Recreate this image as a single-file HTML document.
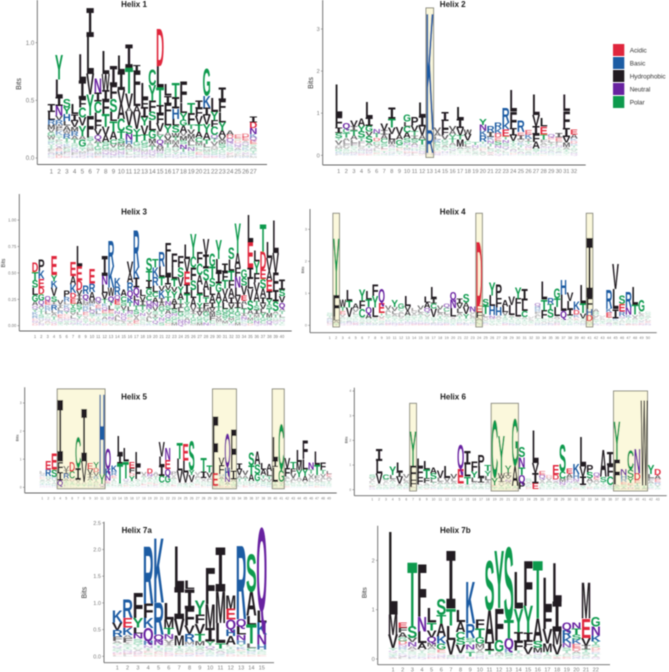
<!DOCTYPE html>
<html lang="en">
<head>
<meta charset="utf-8">
<title>Helix sequence logos</title>
<style>
html,body{margin:0;padding:0;background:#fff;width:669px;height:672px;overflow:hidden}
svg{display:block}
text{font-family:"Liberation Sans",sans-serif}
</style>
</head>
<body>
<svg id="figure" xmlns="http://www.w3.org/2000/svg" width="669" height="672" viewBox="0 0 669 672">
<defs><filter id="soft" x="-2%" y="-2%" width="104%" height="104%"><feGaussianBlur stdDeviation="0.4"/></filter></defs>
<g id="root" filter="url(#soft)"></g>
</svg>
<script>
// Each column is listed top to bottom: letter + height in hundredths of a bit.
const helix1Stacks = [
"I7 L7 R4 M4 V3 G3 W3 S2 K2 Y2 T2 F2 P1 A1 N1 H1 C1 Q1",
"Y21 L15 I8 N8 V4 R4 W3 F3 K3 S2 T2 P2 G2 Q2 A2 E2 H2 M2 D2",
"S7 Y6 H6 L4 A4 W3 R4 T3 Y2 K2 F2 G2 P2 N1 C1 Q1 E1",
"L9 I6 V5 M4 R4 A3 T3 S2 G2 K2 N2 F2 P1 Q1 H1",
"L23 I16 F7 C9 V7 Y9 A3 G6 S2 T2 M2 K1 N1 P1 Q1",
"I25 L32 V18 Y18 F19 S3 T2 A2 G2 M2 P2 K1 N1 Q1 R1 H1",
"N12 I8 C10 L7 F7 V5 Q4 A3 T3 G3 S2 M2 K1 P1 E1",
"L20 W14 I9 F12 T11 V7 A6 S3 G3 M2 Q2 N1 K1 P1 H1",
"I17 F12 S11 L8 T9 A7 C4 V3 G2 M2 Q2 N1 K1 P1",
"L14 I16 V12 A13 C11 T6 S4 M3 G3 Q2 N2 K1 R1 P1",
"I20 T22 V12 A4 V12 S7 N5 H4 A3 M2 G2 L2 C1 Q1 P1",
"I6 F18 L12 A6 V14 Y5 T6 G3 S2 M2 N2 C2 Q1 K1 P1",
"L14 F7 I9 Y7 V8 T5 G3 S3 C2 M2 N2 K1 P1 Q1",
"C14 Y13 F10 S7 L9 G7 M4 A3 T3 N2 Q2 K1 P1 V1",
"D32 L19 T15 I8 F8 V7 L3 Y4 Q4 A3 M3 N2 S2 K1 G1",
"L10 I7 F10 L9 Y6 A3 V4 M3 T3 S2 G2 C2 N1 K1 P1",
"T12 I10 H9 L6 S6 W4 T3 M3 A3 G2 V2 Y2 N1 K1 Q1",
"F18 L9 Y6 G5 A6 V3 M4 S3 N4 T3 K2 C1 Q1 P1",
"T9 F10 T4 V4 M4 A3 L3 S2 N3 G2 C2 K1 Q1",
"I7 F7 V7 T6 A5 C4 M3 S2 L2 G2 E2 N1 K1 P1",
"G23 K10 I7 V8 Y7 A6 T4 L3 C2 M2 S2 N1 Q1 E1",
"L12 Y7 F6 C7 Q3 T3 V3 A2 M2 G2 S2 K1 N1 E1",
"I11 F10 L9 Y7 A5 V4 M3 S3 T2 G2 C2 N1 K1 Q1",
"A4 D3 Q3 N2 K2 S2 G2 T1 V1 E1 L1 M1 P1",
"E3 S2 D2 Q2 N2 A2 K1 G1 T1 V1 L1 P1 H1",
"D3 E3 A2 Q2 S2 K2 G1 T1 V1 N1 L1 M1 R1",
"I5 D5 N5 K3 Q3 E3 S2 A2 G2 T2 V1 R1 L1 M1"
];
const helix2Stacks = [
"L75 F26 I13 S12 T6 V9 A5 M6 G6 K3 R3 P3",
"Q13 C10 T11 A8 L7 F6 V6 S5 G4 W3 K3",
"V14 I10 T12 A10 L8 F7 S5 Y4 G4 M3 Q3 K3",
"A18 Y13 S15 T8 F7 L6 V5 M4 H3 G3 N3 E3",
"L36 I20 G13 V11 S15 A8 T6 Q4 M4 N3 K3 E3",
"N10 T10 D8 C8 V6 A5 L5 S4 E3 G3",
"V17 I10 A10 C10 S8 L6 E4 T5 Q3 G3",
"I28 T20 V15 L14 M10 A6 N4 S4 C4 Q3 G3 K3",
"V18 A12 G12 C8 D4 L4 S4 T3 N2",
"G16 L11 C15 A13 S10 N6 T6 M5 R4 D4 F3 Q3",
"P20 V14 T10 I8 S9 A7 N5 G5 H4 E3 F3 L3",
"L32 I24 V21 A10 T12 S5 C5 G5 N3 Q3 M3 E2",
"K275 R55 Q3 H2",
"V10 A9 L8 K7 C7 S6 T5 G4 D3 Q3 N3",
"I21 L20 F14 V10 G7 S6 A6 C5 T4 N3 H3 Q2 K2",
"V11 A10 Y10 T9 A7 C6 Q5 S4 L3 G3 N2",
"L29 I21 V18 T10 M16 A6 S4 T4 Y3 G2 N2",
"W12 V15 C8 L7 A5 T4 I4 G3 S2 N2",
"T8 N6 V5 L4 S4 A3 G3",
"Y14 N13 K12 R14 T6 H5 S5 D4 L4 A3 G3 V3",
"R14 I11 K8 N8 T7 L6 S5 V4 D3 A3",
"R14 K12 D10 E8 S10 N7 Y5 P4 T4 Q4",
"R34 K17 E16 T8 N8 S7 Q6 Y5 L4 G4 H3",
"L52 F40 I17 V13 T6 Y6 S5 A5 N4 G3 D3 K2",
"R27 E8 I10 V6 K6 T6 L5 S4 A4 N3 G3",
"E10 K10 I7 T6 V5 N5 D4 S4 A3 G3 R3",
"L48 V26 I20 F18 A16 S6 T4 N3 G3",
"L20 E18 T12 F7 A6 V5 N4 S4 K4 Q3 G3 D2",
"Q8 E6 L6 I5 T5 N5 S4 A4 K3 G3 R2",
"I10 E8 F6 L5 N5 T4 S4 A3 K3 G2 Q2",
"L39 F40 I21 V14 M10 A6 T5 S4 Y3 G2",
"E12 A10 K6 D6 R5 T5 S5 V4 G3 N3 Q3"
];
const helix3Stacks = [
"D9 T8 S7 L7 G6 A4 Q3 Y3 K3 R3 E2 N2 V1 D2",
"P11 K8 E8 D6 G6 Q4 A3 Y3 T3 S3 R2 V2 L2 N2",
"Q4 E4 K3 R3 L3 Y2 S2 N2 A2 D1 G1 T1",
"E18 Y6 K6 V8 S5 I3 R5 L3 A3 T3 G2 Q2 D2",
"V4 I3 L3 R3 E3 A2 Q2 S2 T1 G1",
"P6 R4 L3 K3 Q3 Y3 E2 D2 N2 S2 A2 T1",
"E13 A8 K8 D5 E5 Y4 S4 V3 L3 Q2 G2 N2 T1",
"L19 E13 D9 V5 I4 A5 S4 T3 L3 Y3 F2 N2 K2 G1",
"R8 Q5 L3 M3 R3 K3 E3 V2 A2 S2 T2 N2",
"E14 R8 A7 M4 K3 L3 Q3 S3 T2 D2 V2 G2 N1",
"Q4 V3 E3 R3 L3 K2 T2 S2 A2 N2 G1",
"I19 N8 L8 V6 T4 K3 Q3 E3 S3 A3 R2 G2 D2",
"R24 K20 W8 Q5 T4 L4 E3 S3 N3 A2 G2 V2",
"K8 R8 Q4 E5 S3 T3 N3 A3 L3 V2 G2 I1",
"A6 C5 S4 V4 T3 N3 Q3 L2 I2 G2",
"V11 A9 R8 Q6 K5 T4 L4 N3 S3 E2 G2 I2 D2",
"R35 K10 I9 Q7 L5 N5 T4 S4 V3 A3 E3 G2",
"L6 V5 I4 T4 Y3 N3 S2 A2 C2 G2 Q1",
"S12 T9 I8 G6 C5 Q4 N4 T3 V3 A3 L3 Y2 K2",
"T8 K9 R8 L6 C5 A5 N4 V4 S3 I3 Y3 Q3 G2",
"R14 L10 T8 V5 K7 I4 A4 G4 T3 Y3 N3 Q2 S3",
"F12 L19 I8 V5 Y6 T5 N4 S4 A4 Q3 G3 C3 D2",
"F12 L12 T7 V5 Y6 A5 I5 S4 N3 G3 C3 M3",
"F11 S9 V9 Y6 A6 T4 I4 L4 G4 C3 N3 Q3",
"L14 V12 E12 I9 T8 Y4 G4 S3 C3 A3 N3 F2",
"Y22 C10 F12 S9 L8 A8 V4 I3 T3 G3 C3 M2",
"F11 C11 A9 L9 T8 Y5 I4 V4 G3 S3 M3",
"V15 I13 S11 A9 L7 T5 F5 M4 G4 C3 Y3 N3",
"G12 T11 S8 L8 A7 I5 V4 M4 F4 C3 N2",
"Y18 L12 I11 G8 A8 Y6 T4 S4 V3 M3 F2 C2",
"I8 F8 T8 V7 A6 L6 G4 S4 Y3 M3 C2",
"S11 L11 T9 F8 A8 I6 V5 G4 C4 M3 Y3 N2",
"Y28 A14 F9 N10 L8 V6 I5 T4 G4 S3 C3 M3",
"G8 S7 V9 E5 A4 L4 T4 I3 N3 K2 C2 Q2",
"L26 E24 I11 L9 V11 S9 A4 T3 M3 G3 D2",
"L10 Y11 F9 V9 A9 T4 S4 I4 M3 G3 N3 Q2",
"T26 D17 E9 S9 A8 I6 V5 L4 Y4 G3 C3 N2",
"L15 V12 A9 E10 I8 Y5 S4 T4 M4 G3 Q3 N2",
"L31 V19 F16 I11 S9 A3 T3 G2 M2 Q2 Y2",
"I10 S6 V6 Q5 A3 T3 L3 G2 N2 Y2 C2"
];
const helix4Stacks = [
"S6 G5 T5 A4 R4 K4 N3 L3 E2 Q2 D2",
"Y175 F68 L12 A8 S4 T3",
"W24 T12 E10 V8 A6 S5 L4 G4 K3 Q3 N2",
"L34 T20 V30 S6 G5 A4 K3 N3 Q3 D2",
"A16 V10 L8 S6 T6 G5 C4 K4 Q3 E3 N3",
"Y33 F26 C26 V6 S5 G4 A4 T3 K3",
"L25 T24 Q20 A15 G6 S5 V5 N3 K3",
"F36 Y36 L30 A6 S5 T5 G4 V3 K3",
"Q42 E32 T9 V8 D6 S5 G4 A4 K3",
"V12 A9 L8 S7 T6 G5 K4 Q4 N3 E3",
"Y22 V12 L10 A8 S6 T6 G5 K4 N3 Q3",
"G15 C9 A8 L8 V7 S6 T5 K4 Q3 E3",
"L31 V16 A15 S7 G6 T5 K4 N3 Q3 E2",
"L9 V8 A7 S6 T5 G5 K4 Q3 N3 E3",
"V12 L10 A8 T7 S6 G5 K4 Q4 N3 E3",
"L18 A18 Q12 Y8 V8 T6 S5 G5 K4 N3 E3",
"L36 I16 C16 V26 G6 S5 T5 A4 K3 N3",
"V12 L11 A9 T8 G7 S5 K4 Q3 N3",
"Q12 C12 L10 A7 T6 G6 S5 K3 N3 E3",
"Q23 N26 L26 V6 A5 S5 G5 T4 K3",
"I16 V16 L14 A9 T8 S6 G5 K4 N3 E3",
"S26 A16 V21 Y14 G6 T5 L4 K3 N3",
"N15 V8 L7 A7 S5 T5 G4 K3 Q2 E2",
"D200 E19 F18 A8 S5 L4 T3 G3",
"S20 T26 L10 A6 V6 G5 K4 N3 E2",
"Y40 L33 H28 N10 A6 S5 T4 G4 V3",
"P42 F29 H26 A7 V6 S5 T4 G4 L4",
"A20 L18 V11 T7 S7 G6 K4 N3 E3",
"V26 L31 A7 T7 G6 S5 K4 N3",
"Y34 F26 L31 A6 T6 S5 G4 V3 K3",
"I36 L34 C18 A7 T6 S5 G4 V4",
"V6 L5 A5 T4 S3 G2 K2 E1",
"Q10 H9 R8 F8 A7 L7 T6 S5 G4 N3 K3",
"L55 T32 F26 S5 G5 A5 V4 K3",
"R17 T16 S26 A6 G5 V4 L4 K3 N3",
"G31 T26 L28 A7 V6 S5 P5 N3 D3",
"H45 L52 Q21 A6 T5 S5 G4 Y3",
"V26 L26 I20 Y8 A6 T5 S4 G4 K3",
"K26 D14 K10 E6 A5 T4 S4 N3 G2",
"L57 T30 V16 S6 A5 G5 N3 K3",
"I185 F36 H20 D18 A6 S4 T3",
"A10 G8 V8 L7 S6 T5 K4 N3",
"V6 L5 A5 S4 T4 G3 K2 E2",
"R57 K13 E15 T6 S5 G4 A4 N3 Q3",
"V78 L62 I29 K7 S5 A4 T3 G3",
"S26 E24 R14 N7 T6 A5 G4 L4 K3",
"R47 N21 K9 T7 S6 G5 A4 E3",
"L55 T31 V8 A7 S6 G5 K4 E3",
"G36 L8 A7 S6 T6 V5 K4 E4 N3",
"G6 S6 A6 T5 L5 V4 E4 K4 N3"
];
const helix5Stacks = [
"L8 V7 R6 E6 S5 A5 G5 T5 K4 Q3 N3",
"E30 R24 S8 V6 A6 T5 G5 K4 Q3 N3",
"E56 S26 R8 V6 T6 A5 G5 K4 N3",
"I218 F36 I30 Q18 A4 S3",
"V14 I12 R18 A8 T6 S6 G4 L4 K3",
"D33 C26 E6 V6 T5 S4 G4 L3 A3",
"C107 I44 V8 A6 S5 T4 L3",
"I188 V74 A6 S5 T4 G3",
"E20 V18 I12 A10 T7 G6 S5 K4 L3",
"Y21 D14 V14 R10 T8 A7 S6 L5 K4",
"H282 Y36 Q8 A4",
"Q71 K24 N18 E8 A5 T4 S4 G3",
"K20 R14 E9 T8 A7 S6 L5 G4 N3",
"L68 I30 T71 S6 A4 G4",
"L48 T60 Q8 S6 A5 G5 E4 K3",
"E20 F18 D10 Y18 A6 T5 G5 S4 L3",
"L48 F48 A6 T6 S5 G5 V4 K3",
"V10 A8 T8 S7 G6 L5 E4 K3 Q3",
"D18 N12 A8 T7 S6 E5 G5 L4 K3",
"A10 V8 T8 G6 S6 L5 E4 K4 Q3",
"V51 L32 I36 C24 A6 T4 S4 G3",
"N42 E32 Q24 G24 A5 T5 S4 L3",
"P10 V8 A8 T6 G6 S6 L5 E4 K3",
"T57 L42 V42 A5 S5 G4 K3",
"E60 L42 V36 A5 T4 S4 G4",
"S101 Y18 V24 A6 T5 G4 L4",
"V10 A9 L7 T6 S6 G5 E4 K3 Q3",
"T48 I24 V8 A7 S6 G5 L4 E3",
"T24 V18 A9 L8 S6 G5 K4 E3",
"F202 E45 A4",
"V27 F32 H8 A9 T8 S7 G6 L5 E4",
"Q119 H33 N19 A8 T6 E4",
"F143 I33 A8 T6 G5 S5 V4",
"I22 V20 A12 T10 S7 G6 L5 K3",
"V16 A12 T10 G7 S6 L5 E4",
"S45 T32 A24 G8 L6 V5 K3",
"A45 S33 G26 T8 V6 L5 E3",
"L22 A20 T12 V10 S8 G6 K4 E3",
"A24 L18 T12 V10 S8 G6 K4",
"L83 I24 L53 T6 S5 A4 G4",
"C162 G43 V6 T5 S4 A3",
"V36 F30 A9 L8 T6 G6 S5 E4",
"T22 F18 V16 A10 L8 G7 S5 K3",
"L42 M30 Y24 A10 V8 T6 G5 S4 K3",
"F65 L36 Y24 A18 V8 T6 S5 K3",
"N24 T14 V12 A10 L8 S6 G6 K4 E3",
"L48 T36 F12 A9 V7 S6 G5 E4",
"F27 T14 V12 A9 L8 S7 G5 K4 E3",
"L12 E10 A9 V8 T7 S6 G5 K3"
];
const helix6Stacks = [
"S12 V10 A8 L7 T6 G5 E4 K4 Q3 N3",
"I49 L51 V41 A7 T6 S5 G4 K3",
"C20 V9 A8 L7 T6 S5 G4 K3",
"Y34 L16 A10 T8 S7 G6 V5 K4 E3",
"L38 I20 V27 A10 S6 T5 G4",
"V14 L11 A10 T8 S6 G5 K4 E3",
"Y138 F57 F31 A4 T3 S3",
"L34 F41 F30 A7 S6 T5 G4",
"L34 T34 F20 A9 S6 G5 V4 E3",
"A23 S22 L14 T9 V8 G6 K4 E3",
"V32 L14 A10 T8 S6 G5 K4",
"L50 V14 A10 T8 S6 G5 E4",
"V18 L12 A10 T8 S6 G5 K4",
"Q95 E60 T7 V6 A5 S4 G4",
"I54 L50 T31 V7 A6 S5 G4",
"F41 Y23 L18 A9 T8 S6 G5 V4",
"P49 L43 I20 V8 T7 S6 A5 G4",
"T22 Y20 L16 I10 A9 S7 G6 V5 K3",
"C230 Y31 E6 S5 T4 G3",
"Y149 W20 I16 A8 V8 T6 S5 G5",
"Y27 I14 V13 N11 A9 T8 G6 S5 L4",
"G189 A81 T7 S5 Q4",
"S41 N41 T31 Q30 P27 A3",
"S9 V7 A7 T5 L5 G4 E4 K3",
"L131 V41 I41 E23 S3",
"E16 Q14 V10 A9 T8 S6 G5 L4 K3",
"D10 V10 A9 C9 T7 S6 G5 K3",
"E38 D20 Q8 A9 T7 S6 G5 L4 K3",
"S108 C27 M14 N12 A6 T5 Y5 G4",
"E20 A16 F12 N10 T8 S7 G5 V4 K4",
"K41 H18 N12 A9 T8 S7 G6 E4",
"L119 V41 I34 A6 S5 T4 G4",
"P31 S23 A14 V10 T8 G6 E5 K4",
"Q14 E12 A10 V9 T7 S6 G5 K4",
"A108 S20 T10 V8 G6 Q4 K3",
"I54 F45 C34 A6 T5 S5 G4",
"Y153 F101 A8 T5 S5 G4",
"N24 H16 R12 E10 S8 T6 A4 D3",
"C78 S34 Y20 E9 T8 N6 D4",
"N97 D27 E12 T9 K8 S6 A4",
"W345 T8 S5 A4",
"Y36 L16 F12 A10 T8 S6 G5 K4 E3",
"D24 A16 E12 R10 V8 T6 S5 K3"
];
const helix7aStacks = [
"K22 V14 R12 F8 A5 Y4 Q4 S3 G3 T3 N2 D2 E1 L2",
"R34 E18 K14 A6 F8 I4 S4 T4 G3 N3 Q2 D2 P2 L2",
"F47 Y18 L11 N10 S6 G5 T4 C4 V3 A3 Q2 D2 K2 E2",
"R106 F27 K19 Q24 H8 N5 T4 I3 E3 G2 S2 D2",
"K120 R60 Q11 N9 T5 H3 S3 A3 E3 G2 D2",
"L31 M16 T12 N9 V6 I5 A4 S4 G3 K3 E3 Q2 D2",
"L76 I59 V31 M19 T5 S4 A3 G3 E2 K2 N1",
"L15 I37 F31 V16 R14 M6 H4 T3 S3 A3 G3 E2 Q2 K2",
"Y26 F17 V19 T14 M8 S5 A4 G3 Q3 K3 E2",
"F68 M44 I25 Y8 Q5 A4 T3 S3 G3 K2",
"I82 M59 L37 T10 G4 A4 Q3 S2 K2",
"M25 E20 Q19 H12 A16 L4 T4 G4 S4 K3 D3",
"R136 Q14 L15 N10 H8 Y5 K5 E3 S3 T3 G2 D2",
"S69 A45 L16 T36 L8 C6 H3 K3 G2 E2",
"Q154 L22 K22 N19 H9 T3 S3 C3 G2 E2"
];
const helix7bStacks = [
"L167 M41 V27 Y5 Q4 G3 S3 T2 K2 A2 E1",
"E10 F10 A10 G8 D7 N5 R5 S4 T3 K3 Q3 V2 P2 L2",
"T128 S24 V9 N9 A6 I4 S4 G3 Q3 K3 L2",
"F106 N30 L24 A12 V4 T4 S4 G3 K3 Q2",
"L30 T16 V14 Q11 M8 A6 S4 G4 E3 K3 N3 D2",
"S32 T17 A26 K15 G12 E6 S3 Q3 N3 R2 D2",
"I116 T34 L29 V30 A3 S2 G2 N2",
"L24 A20 C14 S12 V17 T3 N3 Q2 G2 K2",
"K84 R29 S8 T6 N10 G5 T9 Q3 D2",
"F18 T18 G13 M8 V6 A5 S4 Q3 K3 N2",
"S99 A65 I17 T8 Q3 G3 L3",
"Y115 F65 G23 A5 M4 T3 S3",
"S147 T37 Q22 K7 S6 G4 A3",
"L74 Y47 I20 F18 T5 A4 V3 S3 G2",
"F90 Y54 I18 F12 V14 A4 S3 T3",
"T115 A47 S13 M10 Q4 G4 K3 V2",
"L64 F40 V30 M17 T5 A4 S3 G2",
"L78 I61 M27 V20 S3 T2 E2 A2",
"Q15 R15 K12 N9 S6 T5 A4 G4 E2 D2",
"N12 T12 S10 K10 E8 D6 A5 G4 Q4 R3",
"M73 E39 V16 I8 T5 S5 A4 G3 K2",
"G19 N18 K12 Y7 S6 D5 E4 R4 T4 A3 Q3"
];

const helix1Ticks = [0, 0.5, 1];
const helix2Ticks = [0, 1, 2, 3];
const helix3Ticks = [0, 0.25, 0.5, 0.75, 1];
const helix4Ticks = [0, 1, 2, 3];
const helix5Ticks = [0, 1, 2, 3];
const helix6Ticks = [0, 1, 2, 3, 4];
const helix7aTicks = [0, 0.5, 1, 1.5, 2, 2.5];
const helix7bTicks = [0, 1, 2];

// Highlighted conserved regions: first position, last position, top in bits.
const helix2Regions = [[13, 13, 3.5]];
const helix4Regions = [[2, 2, 3.5], [24, 24, 3.5], [41, 41, 3.5]];
const helix5Regions = [[4, 11, 3.5], [30, 33, 3.5], [40, 41, 3.5]];
const helix6Regions = [[7, 7, 3.5], [19, 22, 3.5], [37, 41, 4]];

const legendLabels = ["Acidic", "Basic", "Hydrophobic", "Neutral", "Polar"];

const groupColors = {Acidic:"#e0283c", Basic:"#1f5ca3", Hydrophobic:"#211e20", Neutral:"#6820a0", Polar:"#0c9a4e"};
const letterGroups = {D:"Acidic",E:"Acidic",R:"Basic",K:"Basic",H:"Basic",
  Q:"Neutral",N:"Neutral",G:"Polar",S:"Polar",T:"Polar",Y:"Polar",C:"Polar"};

const SVGNS = "http://www.w3.org/2000/svg";
const root = document.getElementById("root");

function mk(tag, attrs, parent, txt) {
  const el = document.createElementNS(SVGNS, tag);
  for (const k in attrs) el.setAttribute(k, attrs[k]);
  if (txt !== undefined) el.textContent = txt;
  parent.appendChild(el);
  return el;
}

// Draws one stretched logo letter, fits it to a column, and fades very short letters.
function drawLetter(g, ch, cx, yBottom, colW, h) {
  const mono = ch === "I";
  const color = groupColors[letterGroups[ch] || "Hydrophobic"];
  const fade = Math.max(0.18, Math.min(1, (h - 1) / 4.5));
  const el = mk("text", {
    "x": 0, "y": 0, "font-size": 100, "font-weight": "bold", "fill": color, "text-anchor": "middle",
    "fill-opacity": fade.toFixed(2),
    "style": mono ? 'font-family:"Liberation Mono",monospace' : ""
  }, g, ch);
  
  
  const adv = el.getComputedTextLength() || 70;
  const sx = (mono ? colW * 1.25 : colW * 1.04) / adv;
  const sy = h / (mono ? 65.9 : 68.8);
  el.setAttribute("transform", "translate(" + cx.toFixed(2) + " " + yBottom.toFixed(2) + ") scale(" + sx.toFixed(4) + " " + sy.toFixed(4) + ")");
}

function drawPanel(p) {
  const g = mk("g", {}, root);
  
  
  const step = (p.xLast - p.xFirst) / (p.stacks.length - 1);
  const xScale = i => p.xFirst + (i - 1) * step;
  const yScale = b => p.y0 - b * p.pxPerBit;

  (p.regions || []).forEach(r => {
    const x1 = xScale(r[0]) - step / 2, x2 = xScale(r[1]) + step / 2;
    const rect = mk("rect", {x: x1, y: yScale(r[2]), width: x2 - x1, height: yScale(-0.05) - yScale(r[2]),
      fill: "#fbf8dc", stroke: "#8d8d80", "stroke-width": 1}, g);
    
    
  });

  p.stacks.forEach((col, idx) => {
    const tokens = col.trim().split(/\s+/).reverse();
    const cx = xScale(idx + 1);
    let acc = 0;
    const stack = mk("g", {}, g);
    
    
    tokens.forEach(t => {
      const ch = t[0], v = parseInt(t.slice(1), 10) / 100;
      drawLetter(stack, ch, cx, yScale(acc), step, v * p.pxPerBit);
      acc += v;
    });
    const lab = mk("text", {x: cx, y: p.xLabelY, "font-size": p.xFont, fill: "#7a7a7a", "text-anchor": "middle"}, g, String(idx + 1));
    
    
  });

  const ya = mk("line", {x1: p.axisX, x2: p.axisX, y1: p.axisTop, y2: p.axisY, stroke: "#666", "stroke-width": 0.9}, g);
  
  
  const xa = mk("line", {x1: p.axisX, x2: p.axisRight, y1: p.axisY, y2: p.axisY, stroke: "#666", "stroke-width": 0.9}, g);
  
  

  p.ticks.forEach(t => {
    const y = yScale(t);
    const tick = mk("line", {x1: p.axisX - 1.8, x2: p.axisX, y1: y, y2: y, stroke: "#777", "stroke-width": 0.6}, g);
    
    
    const lab = mk("text", {x: p.axisX - 3, y: y + p.yFont * 0.35, "font-size": p.yFont, fill: "#7a7a7a", "text-anchor": "end"}, g, t.toFixed(p.dec));
    
    
  });

  const yt = mk("text", {x: 0, y: 0, "font-size": p.bitsFont, fill: "#333", "text-anchor": "middle",
    transform: "translate(" + p.bitsX + " " + p.bitsY + ") rotate(-90)"}, g, "Bits");
  
  

  const title = mk("text", {x: p.titleX, y: p.titleY, "font-size": 8, "font-weight": "bold", fill: "#1a1a1a", "text-anchor": "middle"}, g, p.title);
  
  
}

const panels = [
 {name:"helix-1-logo",title:"Helix 1",stacks:helix1Stacks,ticks:helix1Ticks,dec:1,xFirst:51.3,xLast:253.3,y0:158,pxPerBit:115.3,axisX:37.3,axisTop:0,axisY:164.5,axisRight:267,xLabelY:173.5,xFont:6.2,yFont:6.2,bitsX:21,bitsY:84,bitsFont:7,titleX:134,titleY:7},
 {name:"helix-2-logo",title:"Helix 2",stacks:helix2Stacks,ticks:helix2Ticks,dec:0,regions:helix2Regions,xFirst:338.7,xLast:574,y0:155.3,pxPerBit:42.1,axisX:322.7,axisTop:0,axisY:165,axisRight:585.7,xLabelY:173,xFont:5.6,yFont:5.6,bitsX:313,bitsY:83,bitsFont:7,titleX:452.7,titleY:7},
 {name:"helix-3-logo",title:"Helix 3",stacks:helix3Stacks,ticks:helix3Ticks,dec:2,xFirst:35,xLast:282,y0:325.7,pxPerBit:105.6,axisX:19.3,axisTop:194,axisY:331,axisRight:291.7,xLabelY:338,xFont:4.2,yFont:4.2,bitsX:5,bitsY:263,bitsFont:5.2,titleX:134,titleY:214.5},
 {name:"helix-4-logo",title:"Helix 4",stacks:helix4Stacks,ticks:helix4Ticks,dec:0,regions:helix4Regions,xFirst:329.7,xLast:648,y0:325.3,pxPerBit:32,axisX:310,axisTop:209,axisY:332.7,axisRight:656.7,xLabelY:339,xFont:3.8,yFont:3.8,bitsX:304,bitsY:270,bitsFont:4,titleX:452.7,titleY:214.5},
 {name:"helix-5-logo",title:"Helix 5",stacks:helix5Stacks,ticks:helix5Ticks,dec:0,regions:helix5Regions,xFirst:42.3,xLast:329,y0:487.3,pxPerBit:28.1,axisX:24.7,axisTop:387.3,axisY:493,axisRight:336.7,xLabelY:499.5,xFont:3.4,yFont:3.4,bitsX:18.5,bitsY:438,bitsFont:4,titleX:134,titleY:399.5},
 {name:"helix-6-logo",title:"Helix 6",stacks:helix6Stacks,ticks:helix6Ticks,dec:0,regions:helix6Regions,xFirst:372.3,xLast:657.7,y0:489.7,pxPerBit:24.67,axisX:354.3,axisTop:387.7,axisY:495.7,axisRight:666.7,xLabelY:500.5,xFont:3.4,yFont:3.4,bitsX:347.5,bitsY:440,bitsFont:4,titleX:453,titleY:399.5},
 {name:"helix-7a-logo",title:"Helix 7a",stacks:helix7aStacks,ticks:helix7aTicks,dec:1,xFirst:117.3,xLast:261.7,y0:656.3,pxPerBit:53.4,axisX:104,axisTop:521.7,axisY:662.7,axisRight:274,xLabelY:669.5,xFont:5.6,yFont:5.6,bitsX:86.5,bitsY:592.7,bitsFont:7,titleX:136.7,titleY:533},
 {name:"helix-7b-logo",title:"Helix 7b",stacks:helix7bStacks,ticks:helix7bTicks,dec:0,xFirst:393,xLast:595.7,y0:659,pxPerBit:49.3,axisX:377.7,axisTop:525.7,axisY:664.7,axisRight:610,xLabelY:671.5,xFont:5.6,yFont:5.6,bitsX:366.5,bitsY:592.7,bitsFont:6.5,titleX:455.3,titleY:533}
];
panels.forEach(drawPanel);

const legend = mk("g", {}, root);


legendLabels.forEach((lab, i) => {
  const top = 44 + i * 13;
  const sw = mk("rect", {x: 613, y: top, width: 11.3, height: 12, fill: groupColors[lab]}, legend);
  
  
  const t = mk("text", {x: 629.7, y: top + 8.3, "font-size": 6.4, fill: "#333"}, legend, lab);
  
  
});
</script>
</body>
</html>
